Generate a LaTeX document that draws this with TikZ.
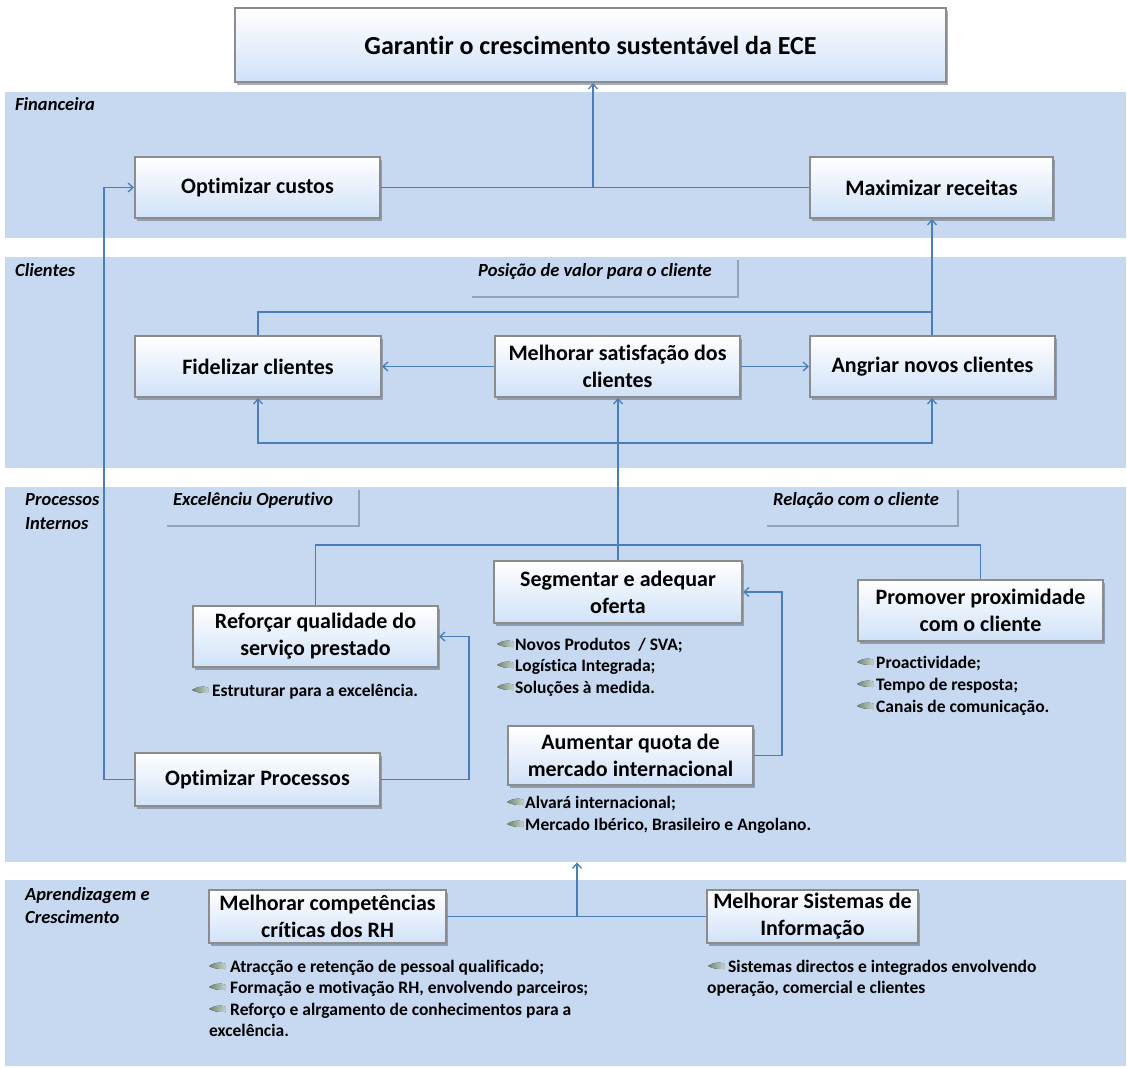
\documentclass[tikz,border=0pt]{standalone}
\usepackage{fontspec}
\setmainfont[Ligatures={NoCommon}]{Carlito}
\usetikzlibrary{shadows,arrows.meta}
\definecolor{bandc}{RGB}{198,217,241}
\definecolor{linec}{RGB}{74,126,187}
\definecolor{boxb}{RGB}{208,226,248}
\definecolor{boxd}{RGB}{140,140,140}
\definecolor{leafc}{RGB}{110,135,115}
\newcommand\leafic{\tikz[baseline=-1pt,x=1pt,y=1pt]{\fill[left color=leafc, right color=leafc!40!white] (0,5) .. controls (4,8) and (10,9.5) .. (16,7.5) -- (16,2) .. controls (10,2) and (5,2) .. (0,5) -- cycle;}}
\tikzset{
  band/.style={fill=bandc, draw=none, inner sep=0pt, anchor=north west},
  goal/.style={draw=boxd, line width=2pt, top color=white, bottom color=boxb,
     drop shadow={shadow xshift=2pt, shadow yshift=-3pt, fill=black!45!bandc, opacity=.6},
     font=\fontsize{22}{27}\selectfont\bfseries, align=center, inner sep=1pt},
  lbl/.style={fill=bandc, inner sep=0pt, anchor=north west,
     drop shadow={shadow xshift=2pt, shadow yshift=-2pt, fill=black!35!bandc, opacity=.7}},
  sec/.style={font=\fontsize{18.5}{23}\selectfont\bfseries\itshape, anchor=base west, inner sep=0pt},
  lst/.style={font=\fontsize{17.5}{21.5}\selectfont\bfseries, anchor=base west, inner sep=0pt},
  ico/.style={anchor=base west, inner sep=0pt},
  conn/.style={draw=linec, line width=1.3pt},
  arr/.style={-{Straight Barb[length=5pt,width=9pt]}}
}
\begin{document}
\begin{tikzpicture}[x=1pt,y=-1pt]
\fill[white] (0,0) rectangle (1127,1068);
\useasboundingbox (0,0) rectangle (1127,1068);
% bands
\node[band, minimum width=1121pt, minimum height=146pt] (bfin) at (5,92) {};
\node[band, minimum width=1121pt, minimum height=211pt] (bcli) at (5,257) {};
\node[band, minimum width=1121pt, minimum height=375pt] (bproc) at (5,487) {};
\node[band, minimum width=1121pt, minimum height=186pt] (bapr) at (5,880) {};
% section labels
\node[sec] (sfin) at (15,110) {Financeira};
\node[sec] (scli) at (15,276) {Clientes};
\node[sec] (sproc1) at (25,505) {Processos};
\node[sec] (sproc2) at (25,529) {Internos};
\node[sec] (sapr1) at (25,900) {Aprendizagem e};
\node[sec] (sapr2) at (25,923) {Crescimento};
% perspective label boxes
\node[lbl, minimum width=267pt, minimum height=38pt] (lpos) at (470,258) {};
\node[sec] (tpos) at (478,276) {Posição de valor para o cliente};
\node[lbl, minimum width=193pt, minimum height=37pt] (lexc) at (165,488) {};
\node[sec] (texc) at (173,505) {Excelênciu Operutivo};
\node[lbl, minimum width=192pt, minimum height=37pt] (lrel) at (765,488) {};
\node[sec] (trel) at (773,505) {Relação com o cliente};
% goal boxes
\node[goal, minimum width=711pt, minimum height=74pt, font=\fontsize{26}{30}\selectfont\bfseries] (top) at (590.5,45) {Garantir o crescimento sustentável da ECE};
\node[goal, minimum width=245pt, minimum height=61pt] (optc) at (257.5,187.5) {Optimizar custos};
\node[goal, minimum width=243pt, minimum height=61pt] (maxr) at (931.5,187.5) {Maximizar receitas};
\node[goal, minimum width=246pt, minimum height=61pt] (fid) at (258,366.5) {Fidelizar clientes};
\node[goal, minimum width=245pt, minimum height=61pt] (mel) at (617.5,366.5) {Melhorar satisfação dos\\clientes};
\node[goal, minimum width=245pt, minimum height=61pt] (ang) at (932.5,366.5) {Angriar novos clientes};
\node[goal, minimum width=248pt, minimum height=62pt] (seg) at (618,592) {Segmentar e adequar\\oferta};
\node[goal, minimum width=245pt, minimum height=61pt] (ref) at (315.5,636.5) {Reforçar qualidade do\\serviço prestado};
\node[goal, minimum width=245pt, minimum height=61pt] (prom) at (980.5,610.5) {Promover proximidade\\com o cliente};
\node[goal, minimum width=245pt, minimum height=59pt] (aum) at (630.5,755.5) {Aumentar quota de\\mercado internacional};
\node[goal, minimum width=245pt, minimum height=53pt] (optp) at (257.5,779.5) {Optimizar Processos};
\node[goal, minimum width=237pt, minimum height=53pt] (comp) at (327.5,916.5) {Melhorar competências\\críticas dos RH};
\node[goal, minimum width=211pt, minimum height=53pt] (sis) at (812.5,916.5) {Melhorar Sistemas de\\Informação};
% bullet lists
\node[ico] (iseg1) at (497,650) {\leafic};
\node[lst] (tseg1) at (515,650) {Novos Produtos~ / SVA;};
\node[ico] (iseg2) at (497,671) {\leafic};
\node[lst] (tseg2) at (515,671) {Logística Integrada;};
\node[ico] (iseg3) at (497,693) {\leafic};
\node[lst] (tseg3) at (515,693) {Soluções à medida.};
\node[ico] (iref1) at (192,696) {\leafic};
\node[lst] (tref1) at (212,696) {Estruturar para a excelência.};
\node[ico] (iprom1) at (857,668) {\leafic};
\node[lst] (tprom1) at (876,668) {Proactividade;};
\node[ico] (iprom2) at (857,690) {\leafic};
\node[lst] (tprom2) at (876,690) {Tempo de resposta;};
\node[ico] (iprom3) at (857,712) {\leafic};
\node[lst] (tprom3) at (876,712) {Canais de comunicação.};
\node[ico] (iaum1) at (507,808) {\leafic};
\node[lst] (taum1) at (525,808) {Alvará internacional;};
\node[ico] (iaum2) at (507,830) {\leafic};
\node[lst] (taum2) at (525,830) {Mercado Ibérico, Brasileiro e Angolano.};
\node[ico] (icomp1) at (209,972) {\leafic};
\node[lst] (tcomp1) at (230,972) {Atracção e retenção de pessoal qualificado;};
\node[ico] (icomp2) at (209,993) {\leafic};
\node[lst] (tcomp2) at (230,993) {Formação e motivação RH, envolvendo parceiros;};
\node[ico] (icomp3) at (209,1015) {\leafic};
\node[lst] (tcomp3) at (230,1015) {Reforço e alrgamento de conhecimentos para a};
\node[lst] (tcomp4) at (209,1036) {excelência.};
\node[ico] (isis1) at (708,972) {\leafic};
\node[lst] (tsis1) at (728,972) {Sistemas directos e integrados envolvendo};
\node[lst] (tsis2) at (707,993) {operação, comercial e clientes};
% connectors
\coordinate (j1) at (593,187.5);
\draw[conn] (optc.east) -- (j1);
\draw[conn] (maxr.west) -- (j1);
\draw[conn,arr] (j1) -- (j1 |- top.south);
\coordinate (j2) at (932,312);
\draw[conn] (fid.north) |- (j2);
\draw[conn,arr] (ang.north -| j2) -- (j2 |- maxr.south);
\draw[conn,arr] (mel.west) -- (fid.east);
\draw[conn,arr] (mel.east) -- (ang.west);
\coordinate (j3) at (618,443);
\draw[conn,arr] (j3) -| (fid.south);
\draw[conn,arr] (j3) -| (ang.south -| j2);
\draw[conn,arr] (seg.north) -- (seg.north |- mel.south);
\coordinate (j4) at (618,545);
\draw[conn] (j4) -| (ref.north);
\draw[conn] (j4) -| (prom.north);
\draw[conn,arr] (aum.east) -- ++(28,0) |- (seg.east);
\draw[conn,arr] (optp.east) -- ++(88,0) |- (ref.east);
\draw[conn,arr] (optp.west) -- ++(-30,0) |- (optc.west);
\coordinate (j5) at (577,917);
\draw[conn] (comp.east) -- (sis.west);
\draw[conn,arr] (j5) -- (j5 |- bproc.south);
\end{tikzpicture}
\end{document}
